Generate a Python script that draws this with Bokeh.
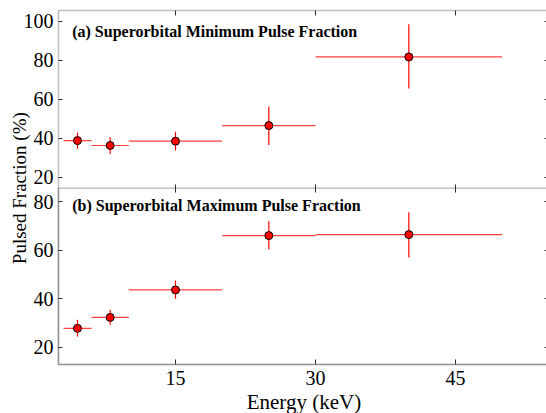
import math
from bokeh.plotting import figure
from bokeh.models import Range1d, LinearAxis, FixedTicker, BoxAnnotation, Label
from bokeh.embed import file_html
from bokeh.resources import INLINE

# ---------------- data ----------------
energy_lo = [3, 6, 10, 20, 30]
energy_hi = [6, 10, 20, 30, 50]
energy_mid = [4.5, 8, 15, 25, 40]

pf_min = [38.8, 36.3, 38.5, 46.5, 81.7]
pf_min_lo = [34.6, 32.0, 33.7, 36.6, 65.5]
pf_min_hi = [43.0, 40.5, 43.4, 56.3, 98.4]

pf_max = [27.8, 32.3, 43.6, 66.0, 66.4]
pf_max_lo = [24.4, 29.3, 40.0, 60.3, 57.0]
pf_max_hi = [31.3, 35.4, 47.5, 71.9, 75.6]

x_ticks = [15, 30, 45]
a_ticks = [20, 40, 60, 80, 100]
b_ticks = [20, 40, 60, 80]

title_a = "(a) Superorbital Minimum Pulse Fraction"
title_b = "(b) Superorbital Maximum Pulse Fraction"
x_label = "Energy (keV)"
y_label = "Pulsed Fraction (%)"

# ---------------- layout constants ----------------
W, H = 546, 413
X_MIN, X_MAX = -3.75, 54.75        # whole canvas in x data units
X_LO, X_HI = 2.46, 55.1            # plot box in x (right edge just off-canvas)
BOX_TOP = 1 - 10 / H               # plot box in canvas fractions (0 = bottom)
BOX_MID = 1 - 187.7 / H
BOX_BOT = 1 - 364 / H
A_LO, A_HI = 14.4, 105.5           # panel (a) y limits
B_LO, B_HI = 12.9, 85.5            # panel (b) y limits

FONT = "Liberation Serif"
AX = "#2e2e2e"
ERR = "red"


def full_range(lo, hi, t_lo, t_hi):
    k = (hi - lo) / (t_hi - t_lo)
    return Range1d(lo - t_lo * k, lo + (1 - t_lo) * k)


p = figure(width=W, height=H,
           x_range=Range1d(X_MIN, X_MAX), y_range=Range1d(0, 1),
           x_axis_location=None, y_axis_location=None,
           toolbar_location=None, output_backend="svg",
           min_border=0, min_border_left=0, min_border_right=0,
           min_border_top=0, min_border_bottom=0)
p.outline_line_color = None
p.grid.visible = False
p.background_fill_color = "white"
p.border_fill_color = "white"
p.extra_y_ranges = {"a": full_range(A_LO, A_HI, BOX_MID, BOX_TOP),
                    "b": full_range(B_LO, B_HI, BOX_BOT, BOX_MID)}

# ---------------- box + divider ----------------
p.add_layout(BoxAnnotation(left=X_LO, right=X_HI, top=BOX_TOP, bottom=BOX_BOT,
                           fill_alpha=0, line_color=AX, line_width=1.6))
p.add_layout(BoxAnnotation(left=X_LO, right=X_HI, top=BOX_MID, bottom=BOX_BOT,
                           fill_alpha=0, line_color=AX, line_width=1.6))


def style_axis(ax, tin, tout, show_labels, standoff=5):
    ax.axis_line_color = None
    ax.major_tick_in = tin
    ax.major_tick_out = tout
    ax.major_tick_line_color = AX
    ax.major_tick_line_width = 1
    ax.minor_tick_line_color = None
    ax.major_label_text_font = FONT
    ax.major_label_text_font_size = "20px"
    if show_labels:
        ax.major_label_text_color = "black"
        ax.major_label_standoff = standoff
    else:
        ax.major_label_text_color = None
    return ax


# y axes of both panels, left (labelled) and right (ticks only)
for rng, ticks in (("a", a_ticks), ("b", b_ticks)):
    left = LinearAxis(y_range_name=rng, ticker=FixedTicker(ticks=ticks), fixed_location=X_LO)
    p.add_layout(style_axis(left, 4, 0, True, 5), "left")
    right = LinearAxis(y_range_name=rng, ticker=FixedTicker(ticks=ticks), fixed_location=X_HI)
    p.add_layout(style_axis(right, 5, 0, False), "right")

# x ticks: bottom (labelled), top and divider
bottom = LinearAxis(ticker=FixedTicker(ticks=x_ticks), fixed_location=BOX_BOT)
p.add_layout(style_axis(bottom, 5, 0, True, 6), "below")
top = LinearAxis(ticker=FixedTicker(ticks=x_ticks), fixed_location=BOX_TOP)
p.add_layout(style_axis(top, 5, 0, False), "above")
mid = LinearAxis(ticker=FixedTicker(ticks=x_ticks), fixed_location=BOX_MID)
p.add_layout(style_axis(mid, 4, 4, False), "below")

# ---------------- data marks ----------------
for rng, val, lo, hi in (("a", pf_min, pf_min_lo, pf_min_hi),
                         ("b", pf_max, pf_max_lo, pf_max_hi)):
    p.segment(x0=energy_lo, x1=energy_hi, y0=val, y1=val, y_range_name=rng,
              line_color=ERR, line_width=1.2, line_alpha=0.75)
    p.segment(x0=energy_mid, x1=energy_mid, y0=lo, y1=hi, y_range_name=rng,
              line_color=ERR, line_width=1.2)
    p.scatter(x=energy_mid, y=val, y_range_name=rng, size=8,
              fill_color="red", line_color="black", line_width=1)

# ---------------- texts ----------------
p.add_layout(Label(x=3.93, y=94.9, y_range_name="a", text=title_a,
                   text_font=FONT, text_font_style="bold", text_font_size="16px",
                   text_baseline="alphabetic", text_color="black"))
p.add_layout(Label(x=3.93, y=78.4, y_range_name="b", text=title_b,
                   text_font=FONT, text_font_style="bold", text_font_size="16px",
                   text_baseline="alphabetic", text_color="black"))
p.add_layout(Label(x=-1.71, y=BOX_MID, text=y_label, angle=math.pi / 2,
                   text_font=FONT, text_font_size="19px", text_align="center",
                   text_baseline="alphabetic", text_color="black"))
p.add_layout(Label(x=28.76, y=1 - 401 / H, text=x_label,
                   text_font=FONT, text_font_size="21px", text_align="center",
                   text_baseline="alphabetic", text_color="black"))

open("out.html", "w").write(file_html(p, INLINE))
